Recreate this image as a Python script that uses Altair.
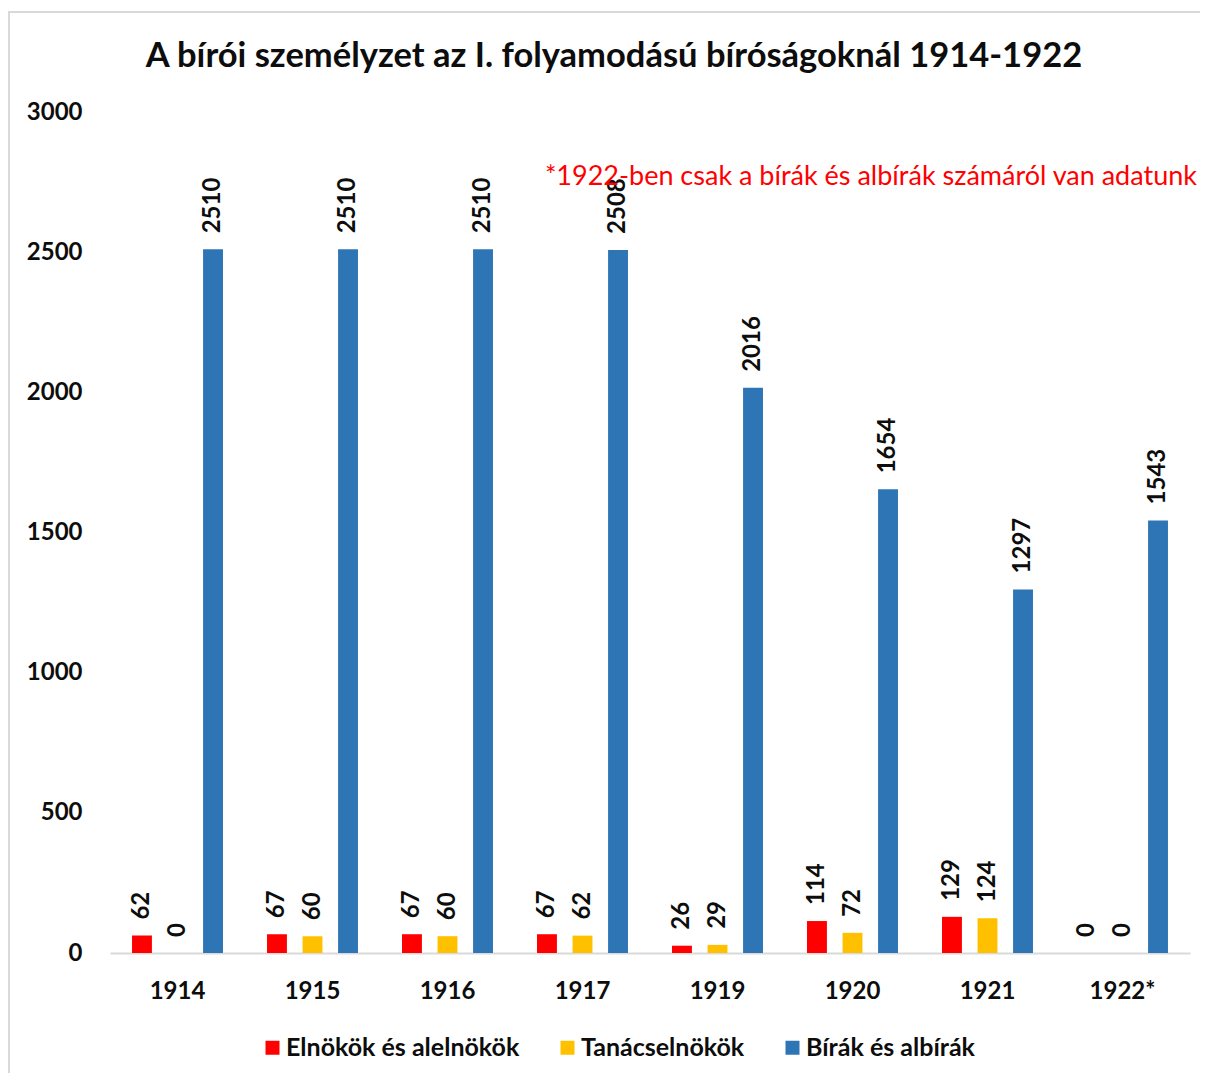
import altair as alt
import pandas as pd

years = ["1914", "1915", "1916", "1917", "1919", "1920", "1921", "1922*"]
series = ["Elnökök és alelnökök", "Tanácselnökök", "Bírák és albírák"]
elnokok = [62, 67, 67, 67, 26, 114, 129, 0]
tanacselnokok = [0, 60, 60, 62, 29, 72, 124, 0]
birak = [2510, 2510, 2510, 2508, 2016, 1654, 1297, 1543]
colors = ["#FF0000", "#FFC000", "#2E75B6"]
y_ticks = [0, 500, 1000, 1500, 2000, 2500, 3000]
title_text = "A bírói személyzet az I. folyamodású bíróságoknál 1914-1922"
note_text = "*1922-ben csak a bírák és albírák számáról van adatunk"

rows = []
for name, vals in zip(series, [elnokok, tanacselnokok, birak]):
    for yr, v in zip(years, vals):
        rows.append({"year": yr, "series": name, "value": v})
df = pd.DataFrame(rows)

FONT = "Lato"

x_enc = alt.X("year:N", sort=years, scale=alt.Scale(paddingInner=0, paddingOuter=0),
              axis=alt.Axis(title=None, labelAngle=0, ticks=False, domainColor="#D9D9D9",
                            domainWidth=2, labelFontSize=24, labelFont=FONT,
                            labelFontWeight="bold", labelColor="#0D0D0D", labelPadding=26,
                            grid=False))
xoff_enc = alt.XOffset("series:N", sort=series,
                       scale=alt.Scale(domain=series, paddingInner=0.44, paddingOuter=0.62))
y_enc = alt.Y("value:Q", scale=alt.Scale(domain=[0, 3000], nice=False),
              axis=alt.Axis(title=None, values=y_ticks, format="d", grid=False, domain=False,
                            ticks=False, labelFontSize=24, labelFont=FONT,
                            labelFontWeight="bold", labelColor="#0D0D0D", labelPadding=28))
color_enc = alt.Color("series:N", sort=series,
                      scale=alt.Scale(domain=series, range=colors),
                      legend=alt.Legend(title=None, orient="none", legendX=150, legendY=923,
                                        direction="horizontal", symbolType="square",
                                        symbolSize=196, symbolStrokeWidth=0,
                                        labelFontSize=25, labelFont=FONT, labelLimit=400,
                                        labelFontWeight="bold", labelColor="#0D0D0D",
                                        labelOffset=1, columnPadding=35, columns=3))

bars = alt.Chart(df).mark_bar().encode(x=x_enc, xOffset=xoff_enc, y=y_enc, color=color_enc)

labels = alt.Chart(df).mark_text(angle=270, align="left", baseline="middle", dx=16,
                                 fontSize=24, font=FONT, fontWeight="bold",
                                 color="#0D0D0D").encode(
    x=alt.X("year:N", sort=years), xOffset=alt.XOffset("series:N", sort=series),
    y="value:Q", text="value:Q")

note = alt.Chart(alt.Data(values=[{"t": note_text}])).mark_text(
    align="right", baseline="middle", fontSize=27, font=FONT, color="#FF0000").encode(
    x=alt.value(1087), y=alt.value(65), text="t:N")

title = alt.Chart(alt.Data(values=[{"t": title_text}])).mark_text(
    align="center", baseline="middle", fontSize=34.5, font=FONT, fontWeight="bold",
    color="#0D0D0D").encode(
    x=alt.value(504), y=alt.value(-55), text="t:N")

border = alt.Chart(alt.Data(values=[{"a": 1}])).mark_rect(
    fill=None, stroke="#D9D9D9", strokeWidth=2).encode(
    x=alt.value(-101), x2=alt.value(1400), y=alt.value(-100), y2=alt.value(1300))

chart = alt.layer(border, bars, labels, note, title).properties(
    width=1080, height=841,
    autosize="none",
    background="white",
    padding={"left": 102, "top": 104, "right": 10, "bottom": 120},
).configure_view(strokeWidth=0, stroke=None)

chart.save("out.html", embed_options={"renderer": "svg", "actions": False})
